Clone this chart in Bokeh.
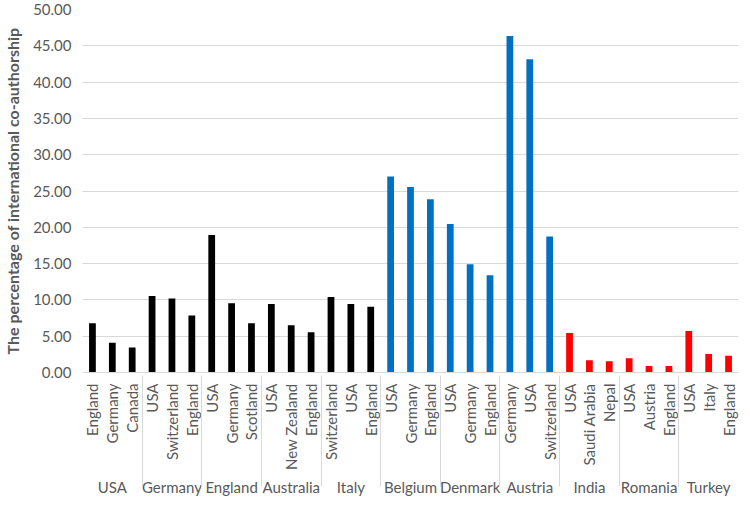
import math
from bokeh.plotting import figure
from bokeh.models import ColumnDataSource, FactorRange, Range1d, FixedTicker, NumeralTickFormatter
from bokeh.embed import file_html
from bokeh.resources import INLINE

groups = ["USA", "Germany", "England", "Australia", "Italy",
          "Belgium", "Denmark", "Austria", "India", "Romania", "Turkey"]
partners = [
    ["England", "Germany", "Canada"],
    ["USA", "Switzerland", "England"],
    ["USA", "Germany", "Scotland"],
    ["USA", "New Zealand", "England"],
    ["Switzerland", "USA", "England"],
    ["USA", "Germany", "England"],
    ["USA", "Germany", "England"],
    ["Germany", "USA", "Switzerland"],
    ["USA", "Saudi Arabia", "Nepal"],
    ["USA", "Austria", "England"],
    ["USA", "Italy", "England"],
]
values = [
    [6.80, 4.10, 3.45],
    [10.55, 10.20, 7.85],
    [18.95, 9.55, 6.80],
    [9.45, 6.50, 5.55],
    [10.40, 9.45, 9.05],
    [27.00, 25.55, 23.85],
    [20.45, 14.90, 13.40],
    [46.35, 43.15, 18.75],
    [5.45, 1.70, 1.55],
    [1.95, 0.90, 0.90],
    [5.70, 2.55, 2.30],
]
group_colors = ["#000000", "#000000", "#000000", "#000000", "#000000",
                "#0070C0", "#0070C0", "#0070C0",
                "#FF0000", "#FF0000", "#FF0000"]
y_ticks = [0, 5, 10, 15, 20, 25, 30, 35, 40, 45, 50]

factors, tops, colors = [], [], []
for g, ps, vs, c in zip(groups, partners, values, group_colors):
    for pname, v in zip(ps, vs):
        factors.append((g, pname))
        tops.append(v)
        colors.append(c)

src = ColumnDataSource(dict(x=factors, top=tops, color=colors))

FONT = "Lato"
GRAY = "#595959"

p = figure(width=742, height=498, output_backend="svg", toolbar_location=None,
           x_range=FactorRange(*factors, group_padding=0, range_padding=0),
           y_range=Range1d(0, 50),
           min_border_top=9, min_border_right=4, min_border_left=10)

p.vbar(x="x", top="top", width=0.34, fill_color="color", line_color=None, source=src)

p.outline_line_color = None
p.xgrid.grid_line_color = None
p.ygrid.grid_line_color = "#d9d9d9"
p.ygrid.grid_line_width = 1

ya = p.yaxis[0]
ya.ticker = FixedTicker(ticks=y_ticks)
ya.formatter = NumeralTickFormatter(format="0.00")
ya.axis_line_color = None
ya.major_tick_line_color = None
ya.minor_tick_line_color = None
ya.major_label_text_font = FONT
ya.major_label_text_font_size = "15px"
ya.major_label_text_color = GRAY
ya.axis_label = "The percentage of international co-authorship"
ya.axis_label_text_font = FONT
ya.axis_label_text_font_size = "16px"
ya.axis_label_text_font_style = "bold"
ya.axis_label_text_color = GRAY
ya.axis_label_standoff = 8

xa = p.xaxis[0]
xa.axis_line_color = "#d9d9d9"
xa.major_tick_line_color = None
xa.minor_tick_line_color = None
xa.major_label_orientation = math.pi / 2
xa.major_label_text_font = FONT
xa.major_label_text_font_size = "15px"
xa.major_label_text_color = GRAY
xa.group_text_font = FONT
xa.group_text_font_size = "15px"
xa.group_text_font_style = "normal"
xa.group_text_color = GRAY
xa.separator_line_color = "#d9d9d9"
xa.separator_line_width = 1

open("out.html", "w").write(file_html(p, INLINE))
